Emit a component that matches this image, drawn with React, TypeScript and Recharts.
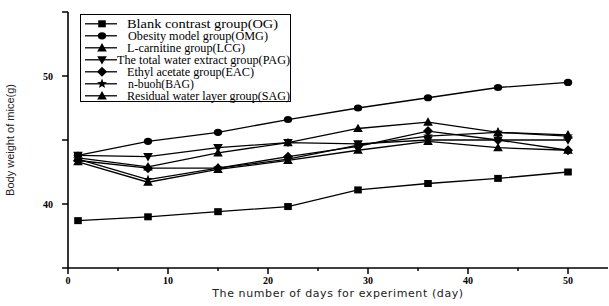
import React from "react";
import { LineChart, Line, XAxis, YAxis, Legend } from "recharts";

// days on which the mice were weighed
const days = [1, 8, 15, 22, 29, 36, 43, 50];

// body weight (g) per group
const og = [38.7, 39.0, 39.4, 39.8, 41.1, 41.6, 42.0, 42.5];
const omg = [43.8, 44.9, 45.6, 46.6, 47.5, 48.3, 49.1, 49.5];
const lcg = [43.6, 42.9, 44.0, 44.8, 45.9, 46.4, 45.6, 45.4];
const pag = [43.8, 43.7, 44.4, 44.8, 44.7, 45.0, 45.0, 45.0];
const eac = [43.4, 42.8, 42.8, 43.7, 44.5, 45.7, 45.0, 44.2];
const bag = [43.5, 41.9, 42.8, 43.5, 44.6, 45.3, 45.6, 45.3];
const sag = [43.3, 41.7, 42.7, 43.4, 44.2, 44.9, 44.4, 44.2];

const xTicks = [0, 5, 10, 15, 20, 25, 30, 35, 40, 45, 50];
const yTicks = [35, 40, 45, 50, 55];
const xLabelled = [0, 10, 20, 30, 40, 50];
const yLabelled = [40, 50];

type Shape = "square" | "circle" | "up" | "down" | "diamond" | "star";

const series: { key: string; name: string; shape: Shape; values: number[]; textW: number; textX: number }[] = [
  { key: "og", name: "Blank contrast group(OG)", shape: "square", values: og, textW: 151, textX: 47 },
  { key: "omg", name: "Obesity model group(OMG)", shape: "circle", values: omg, textW: 140, textX: 48 },
  { key: "lcg", name: "L-carnitine group(LCG)", shape: "up", values: lcg, textW: 118, textX: 47 },
  { key: "pag", name: "The total water extract group(PAG)", shape: "down", values: pag, textW: 173, textX: 37 },
  { key: "eac", name: "Ethyl acetate group(EAC)", shape: "diamond", values: eac, textW: 127, textX: 47 },
  { key: "bag", name: "n-buoh(BAG)", shape: "star", values: bag, textW: 66, textX: 48 },
  { key: "sag", name: "Residual water layer group(SAG)", shape: "up", values: sag, textW: 163, textX: 47 },
];

const data = days.map((d, i) => {
  const row: Record<string, number> = { day: d };
  series.forEach((s) => (row[s.key] = s.values[i]));
  return row;
});

function Marker({ cx, cy, shape }: { cx: number; cy: number; shape: Shape }) {
  if (cx == null || cy == null) return null;
  switch (shape) {
    case "square":
      return <rect x={cx - 3.8} y={cy - 3.5} width={7.6} height={7} fill="#000" />;
    case "circle":
      return <ellipse cx={cx} cy={cy} rx={4.2} ry={3.6} fill="#000" />;
    case "up":
      return <polygon points={`${cx},${cy - 4.8} ${cx - 4.8},${cy + 3.6} ${cx + 4.8},${cy + 3.6}`} fill="#000" />;
    case "down":
      return <polygon points={`${cx},${cy + 4.8} ${cx - 4.8},${cy - 3.6} ${cx + 4.8},${cy - 3.6}`} fill="#000" />;
    case "diamond":
      return <polygon points={`${cx},${cy - 5} ${cx + 5},${cy} ${cx},${cy + 5} ${cx - 5},${cy}`} fill="#000" />;
    case "star": {
      const pts: string[] = [];
      for (let k = 0; k < 10; k++) {
        const r = k % 2 === 0 ? 5.2 : 2.2;
        const a = -Math.PI / 2 + (k * Math.PI) / 5;
        pts.push(`${cx + r * Math.cos(a)},${cy + r * Math.sin(a)}`);
      }
      return <polygon points={pts.join(" ")} fill="#000" />;
    }
  }
  return null;
}

const XTick = ({ x, y, payload }: any) => {
  const v = payload.value;
  const major = xLabelled.includes(v);
  return (
    <g>
      <line x1={x} x2={x} y1={y} y2={y + (major ? 6 : 3)} stroke="#000" strokeWidth={1.5} />
      {major && (
        <text x={x} y={y + 16} textAnchor="middle" fontFamily="Liberation Serif" fontWeight="bold" fontSize={10} fill="#000">
          {v}
        </text>
      )}
    </g>
  );
};

const YTick = ({ x, y, payload }: any) => {
  const v = payload.value;
  return (
    <g>
      <line x1={x - 6} x2={x} y1={y} y2={y} stroke="#000" strokeWidth={1.5} />
      {yLabelled.includes(v) && (
        <text x={x - 15} y={y + 3.5} textAnchor="end" fontFamily="Liberation Serif" fontWeight="bold" fontSize={10} fill="#000">
          {v}
        </text>
      )}
    </g>
  );
};

const LegendBox = () => (
  <svg width={212} height={89} style={{ display: "block" }}>
    <rect x={0.5} y={0.5} width={210} height={87} fill="#fff" stroke="#000" strokeWidth={1} />
    {series.map((s, i) => {
      const cy = 9.8 + i * 12;
      return (
        <g key={s.key}>
          <line x1={5} x2={37} y1={cy} y2={cy} stroke="#000" strokeWidth={1.3} />
          <Marker cx={22} cy={cy} shape={s.shape} />
          <text
            x={s.textX}
            y={cy + 3.8}
            fontFamily="Liberation Serif"
            fontSize={11.5}
            fill="#000"
            textLength={s.textW}
            lengthAdjust="spacingAndGlyphs"
          >
            {s.name}
          </text>
        </g>
      );
    })}
  </svg>
);

export default function App() {
  return (
    <div style={{ position: "absolute", left: 0, top: 0, width: 609, height: 306, background: "#fff" }}>
      <LineChart width={609} height={306} data={data} margin={{ top: 12, right: 1, bottom: 0, left: 8 }}>
        <XAxis
          dataKey="day"
          type="number"
          domain={[0, 54]}
          ticks={xTicks}
          tick={<XTick />}
          tickSize={0}
          tickMargin={0}
          tickLine={false}
          height={38}
          axisLine={{ stroke: "#000", strokeWidth: 1.6 }}
          label={{
            value: "The number of days for experiment (day)",
            position: "insideBottom",
            offset: 9,
            fill: "#222",
            fontSize: 11,
            fontFamily: "DejaVu Sans",
            style: { letterSpacing: "0.6px" },
          }}
        />
        <YAxis
          type="number"
          domain={[35, 55]}
          ticks={yTicks}
          tick={<YTick />}
          tickSize={0}
          tickMargin={0}
          tickLine={false}
          width={60}
          axisLine={{ stroke: "#000", strokeWidth: 1.6 }}
          label={{
            value: "Body weight of mice(g)",
            angle: -90,
            position: "insideLeft",
            offset: 2,
            fill: "#222",
            fontSize: 11,
            fontFamily: "Liberation Sans Narrow, Liberation Sans",
            style: { textAnchor: "middle" },
          }}
        />
        <Legend
          layout="horizontal"
          verticalAlign="middle"
          content={() => <LegendBox />}
          wrapperStyle={{ left: 80, top: 14, width: 212, height: 89 }}
        />
        {series.map((s) => (
          <Line
            key={s.key}
            dataKey={s.key}
            name={s.name}
            stroke="#000"
            strokeWidth={1.3}
            dot={(p: any) => <Marker key={`${s.key}-${p.index}`} cx={p.cx} cy={p.cy} shape={s.shape} />}
            activeDot={false}
            isAnimationActive={false}
          />
        ))}
      </LineChart>
    </div>
  );
}
